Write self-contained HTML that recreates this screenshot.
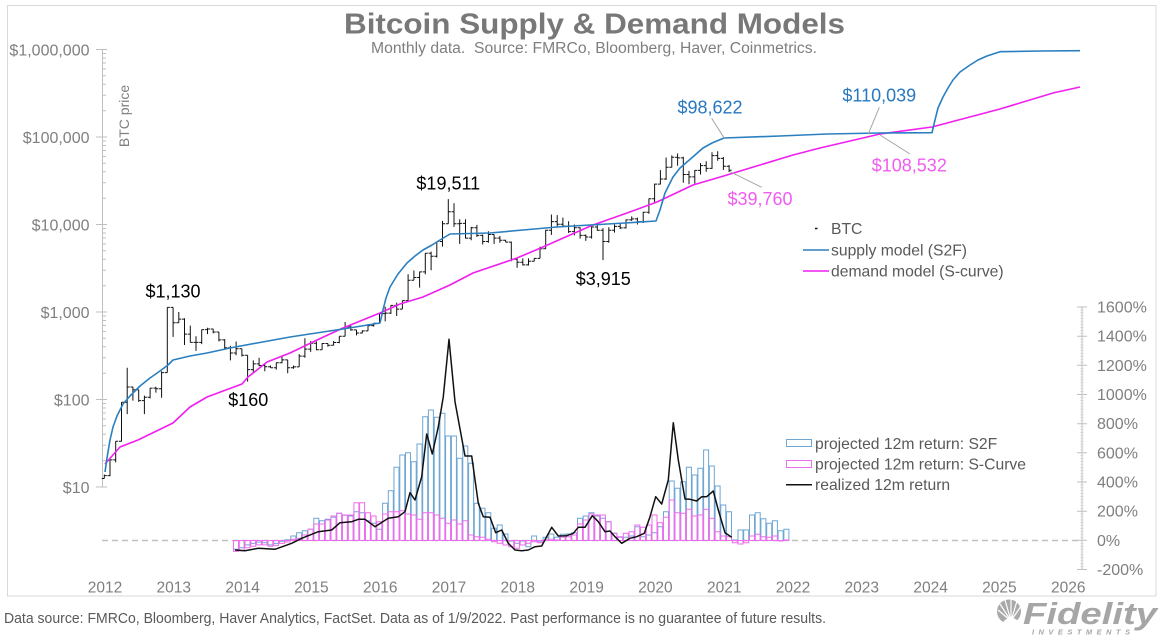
<!DOCTYPE html>
<html><head><meta charset="utf-8"><style>
html,body{margin:0;padding:0;background:#fff;}
svg{display:block;}
text{font-family:"Liberation Sans",Arial,sans-serif;}
</style></head><body>
<svg width="1163" height="640" viewBox="0 0 1163 640" xmlns="http://www.w3.org/2000/svg">
<rect x="0" y="0" width="1163" height="640" fill="#fff"/>
<rect x="7.5" y="5.5" width="1148.5" height="590.5" fill="none" stroke="#d9d9d9" stroke-width="1"/>

<!-- title -->
<text x="594.5" y="33.5" text-anchor="middle" font-size="29" font-weight="bold" fill="#787878" textLength="501" lengthAdjust="spacingAndGlyphs">Bitcoin Supply &amp; Demand Models</text>
<text x="594" y="53" text-anchor="middle" font-size="15.5" fill="#7f7f7f" textLength="446" lengthAdjust="spacingAndGlyphs">Monthly data.&#160; Source: FMRCo, Bloomberg, Haver, Coinmetrics.</text>

<!-- left axis -->
<g stroke="#bfbfbf" stroke-width="1" fill="none">
<path d="M102.5 49.5V487"/>
<path d="M96 49.5h11M96 137h11M96 224.5h11M96 312h11M96 399.5h11M96 487h11"/>
<path d="M102 460.7h4M102 445.3h4M102 434.3h4M102 425.8h4M102 418.9h4M102 413h4M102 408h4M102 403.5h4
M102 373.2h4M102 357.8h4M102 346.8h4M102 338.3h4M102 331.4h4M102 325.5h4M102 320.5h4M102 316h4
M102 285.7h4M102 270.3h4M102 259.3h4M102 250.8h4M102 243.9h4M102 238h4M102 233h4M102 228.5h4
M102 198.2h4M102 182.8h4M102 171.8h4M102 163.3h4M102 156.4h4M102 150.5h4M102 145.5h4M102 141h4
M102 110.7h4M102 95.3h4M102 84.3h4M102 75.8h4M102 68.9h4M102 63h4M102 58h4M102 53.5h4"/>
</g>
<g font-size="16" fill="#7f7f7f" text-anchor="end">
<text x="89.5" y="55.5">$1,000,000</text>
<text x="89.5" y="143">$100,000</text>
<text x="89.5" y="230.5">$10,000</text>
<text x="89.5" y="318">$1,000</text>
<text x="89.5" y="405.5">$100</text>
<text x="89.5" y="493">$10</text>
</g>
<text transform="translate(129,116) rotate(-90)" text-anchor="middle" font-size="14" fill="#7f7f7f">BTC price</text>

<!-- right axis -->
<g fill="none">
<path d="M1082 307V569.5" stroke="#bfbfbf" stroke-width="1"/>
<path d="M1082 306.7V570" stroke="#d3d3d3" stroke-width="4" stroke-dasharray="0.6 2.3167"/>
<path d="M1077 307h10M1077 336.2h10M1077 365.3h10M1077 394.5h10M1077 423.7h10M1077 452.8h10M1077 482h10M1077 511.2h10M1077 540.3h10M1077 569.5h10" stroke="#bfbfbf" stroke-width="1"/>
</g>
<g font-size="16" fill="#7f7f7f">
<text x="1097" y="312.5">1600%</text>
<text x="1097" y="341.7">1400%</text>
<text x="1097" y="370.8">1200%</text>
<text x="1097" y="400">1000%</text>
<text x="1097" y="429.2">800%</text>
<text x="1097" y="458.3">600%</text>
<text x="1097" y="487.5">400%</text>
<text x="1097" y="516.7">200%</text>
<text x="1097" y="545.8">0%</text>
<text x="1097" y="575">-200%</text>
</g>

<!-- x labels -->
<g font-size="15.5" fill="#7f7f7f" text-anchor="middle">
<text x="105" y="592.5">2012</text>
<text x="173.8" y="592.5">2013</text>
<text x="242.6" y="592.5">2014</text>
<text x="311.4" y="592.5">2015</text>
<text x="380.2" y="592.5">2016</text>
<text x="449" y="592.5">2017</text>
<text x="517.8" y="592.5">2018</text>
<text x="586.6" y="592.5">2019</text>
<text x="655.4" y="592.5">2020</text>
<text x="724.2" y="592.5">2021</text>
<text x="793" y="592.5">2022</text>
<text x="861.8" y="592.5">2023</text>
<text x="930.6" y="592.5">2024</text>
<text x="999.4" y="592.5">2025</text>
<text x="1068.2" y="592.5">2026</text>
</g>

<!-- zero line -->
<path d="M102 540.5H1082" stroke="#c0c0c0" stroke-width="1.5" stroke-dasharray="6 4" fill="none"/>

<!-- S2F bars -->
<path fill="none" stroke="#6ea6d4" stroke-width="1" d="M233.5 540.5V549.2h5V540.5ZM239.2 540.5V547.8h5V540.5ZM245 540.5V544.9h5V540.5ZM250.7 540.5V543.4h5V540.5ZM256.4 540.5V542h5V540.5ZM262.2 540.5V542.7h5V540.5ZM267.9 540.5V544.9h5V540.5ZM273.6 540.5V543.4h5V540.5ZM279.4 540.5V541.2h5V540.5ZM285.1 540.5V539.8h5V540.5ZM290.8 540.5V536h5V540.5ZM296.6 540.5V532.7h5V540.5ZM302.3 540.5V530.7h5V540.5ZM308 540.5V529.3h5V540.5ZM313.8 540.5V518.3h5V540.5ZM319.5 540.5V520.7h5V540.5ZM325.2 540.5V519.3h5V540.5ZM331 540.5V517.3h5V540.5ZM336.7 540.5V513.3h5V540.5ZM342.4 540.5V515.3h5V540.5ZM348.2 540.5V516h5V540.5ZM353.9 540.5V511.7h5V540.5ZM359.6 540.5V512.7h5V540.5ZM365.4 540.5V520.7h5V540.5ZM371.1 540.5V523.3h5V540.5ZM376.8 540.5V529.3h5V540.5ZM382.6 540.5V503.3h5V540.5ZM388.3 540.5V490.7h5V540.5ZM394 540.5V467.3h5V540.5ZM399.8 540.5V455h5V540.5ZM405.5 540.5V452.7h5V540.5ZM411.2 540.5V461.7h5V540.5ZM417 540.5V444h5V540.5ZM422.7 540.5V416.7h5V540.5ZM428.4 540.5V410h5V540.5ZM434.2 540.5V417.3h5V540.5ZM439.9 540.5V413.3h5V540.5ZM445.6 540.5V436h5V540.5ZM451.4 540.5V436h5V540.5ZM457.1 540.5V458.3h5V540.5ZM462.8 540.5V446h5V540.5ZM468.6 540.5V463.3h5V540.5ZM474.3 540.5V503.3h5V540.5ZM480 540.5V508.3h5V540.5ZM485.8 540.5V512.7h5V540.5ZM491.5 540.5V528.3h5V540.5ZM497.2 540.5V525h5V540.5ZM503 540.5V534h5V540.5ZM508.7 540.5V541h5V540.5ZM514.4 540.5V543.3h5V540.5ZM520.2 540.5V541h5V540.5ZM525.9 540.5V546.7h5V540.5ZM531.6 540.5V536h5V540.5ZM537.4 540.5V541.7h5V540.5ZM543.1 540.5V537.3h5V540.5ZM548.8 540.5V534h5V540.5ZM554.6 540.5V537.3h5V540.5ZM560.3 540.5V534.3h5V540.5ZM566 540.5V534h5V540.5ZM571.7 540.5V532.7h5V540.5ZM577.5 540.5V518.3h5V540.5ZM583.2 540.5V516h5V540.5ZM588.9 540.5V512.7h5V540.5ZM594.7 540.5V516h5V540.5ZM600.4 540.5V518.3h5V540.5ZM606.1 540.5V521.7h5V540.5ZM611.9 540.5V533.3h5V540.5ZM617.6 540.5V537.3h5V540.5ZM623.3 540.5V537.3h5V540.5ZM629.1 540.5V536h5V540.5ZM634.8 540.5V526.7h5V540.5ZM640.5 540.5V536.7h5V540.5ZM646.3 540.5V535h5V540.5ZM652 540.5V532.7h5V540.5ZM657.7 540.5V526.7h5V540.5ZM663.5 540.5V511.7h5V540.5ZM669.2 540.5V481h5V540.5ZM674.9 540.5V488.3h5V540.5ZM680.7 540.5V481.7h5V540.5ZM686.4 540.5V467.3h5V540.5ZM692.1 540.5V475h5V540.5ZM697.9 540.5V468.3h5V540.5ZM703.6 540.5V450h5V540.5ZM709.3 540.5V466h5V540.5ZM715.1 540.5V486h5V540.5ZM720.8 540.5V505h5V540.5ZM726.5 540.5V511.7h5V540.5ZM732.3 540.5V540h5V540.5ZM738 540.5V530h5V540.5ZM743.7 540.5V530h5V540.5ZM749.5 540.5V515h5V540.5ZM755.2 540.5V512.7h5V540.5ZM760.9 540.5V518.7h5V540.5ZM766.7 540.5V523.3h5V540.5ZM772.4 540.5V520.7h5V540.5ZM778.1 540.5V530.7h5V540.5ZM783.9 540.5V529.3h5V540.5Z"/>

<!-- S-curve bars -->
<path fill="none" stroke="#ee6cee" stroke-width="1" d="M233.5 540.5V551.4h5V540.5ZM239.2 540.5V550.7h5V540.5ZM245 540.5V547.8h5V540.5ZM250.7 540.5V546.3h5V540.5ZM256.4 540.5V544.9h5V540.5ZM262.2 540.5V544.9h5V540.5ZM267.9 540.5V546.3h5V540.5ZM273.6 540.5V545.6h5V540.5ZM279.4 540.5V543.4h5V540.5ZM285.1 540.5V542h5V540.5ZM290.8 540.5V539.3h5V540.5ZM296.6 540.5V538.3h5V540.5ZM302.3 540.5V535h5V540.5ZM308 540.5V529.3h5V540.5ZM313.8 540.5V524h5V540.5ZM319.5 540.5V524h5V540.5ZM325.2 540.5V520h5V540.5ZM331 540.5V516h5V540.5ZM336.7 540.5V513.3h5V540.5ZM342.4 540.5V515h5V540.5ZM348.2 540.5V515h5V540.5ZM353.9 540.5V502.7h5V540.5ZM359.6 540.5V502.7h5V540.5ZM365.4 540.5V512.7h5V540.5ZM371.1 540.5V516h5V540.5ZM376.8 540.5V521.7h5V540.5ZM382.6 540.5V514h5V540.5ZM388.3 540.5V511.7h5V540.5ZM394 540.5V511.7h5V540.5ZM399.8 540.5V510.7h5V540.5ZM405.5 540.5V514h5V540.5ZM411.2 540.5V515h5V540.5ZM417 540.5V519.3h5V540.5ZM422.7 540.5V512.7h5V540.5ZM428.4 540.5V512.7h5V540.5ZM434.2 540.5V515h5V540.5ZM439.9 540.5V518.3h5V540.5ZM445.6 540.5V523.3h5V540.5ZM451.4 540.5V520h5V540.5ZM457.1 540.5V524h5V540.5ZM462.8 540.5V520.7h5V540.5ZM468.6 540.5V535h5V540.5ZM474.3 540.5V536.7h5V540.5ZM480 540.5V537.3h5V540.5ZM485.8 540.5V539.3h5V540.5ZM491.5 540.5V541.7h5V540.5ZM497.2 540.5V543.3h5V540.5ZM503 540.5V545h5V540.5ZM508.7 540.5V546.7h5V540.5ZM514.4 540.5V548.3h5V540.5ZM520.2 540.5V545h5V540.5ZM525.9 540.5V543.3h5V540.5ZM531.6 540.5V541.7h5V540.5ZM537.4 540.5V542.7h5V540.5ZM543.1 540.5V540h5V540.5ZM548.8 540.5V539.3h5V540.5ZM554.6 540.5V540h5V540.5ZM560.3 540.5V537.3h5V540.5ZM566 540.5V536.7h5V540.5ZM571.7 540.5V535h5V540.5ZM577.5 540.5V524h5V540.5ZM583.2 540.5V520h5V540.5ZM588.9 540.5V514h5V540.5ZM594.7 540.5V515h5V540.5ZM600.4 540.5V515h5V540.5ZM606.1 540.5V521.7h5V540.5ZM611.9 540.5V533.3h5V540.5ZM617.6 540.5V536.7h5V540.5ZM623.3 540.5V533.3h5V540.5ZM629.1 540.5V531.7h5V540.5ZM634.8 540.5V525h5V540.5ZM640.5 540.5V527.3h5V540.5ZM646.3 540.5V525h5V540.5ZM652 540.5V515h5V540.5ZM657.7 540.5V522.7h5V540.5ZM663.5 540.5V517.3h5V540.5ZM669.2 540.5V500h5V540.5ZM674.9 540.5V512.7h5V540.5ZM680.7 540.5V513.3h5V540.5ZM686.4 540.5V509.3h5V540.5ZM692.1 540.5V516h5V540.5ZM697.9 540.5V515h5V540.5ZM703.6 540.5V509.3h5V540.5ZM709.3 540.5V518.3h5V540.5ZM715.1 540.5V531.7h5V540.5ZM720.8 540.5V536h5V540.5ZM726.5 540.5V536.7h5V540.5ZM732.3 540.5V542.7h5V540.5ZM738 540.5V544h5V540.5ZM743.7 540.5V542.7h5V540.5ZM749.5 540.5V536h5V540.5ZM755.2 540.5V534.3h5V540.5ZM760.9 540.5V536.7h5V540.5ZM766.7 540.5V537.3h5V540.5ZM772.4 540.5V536h5V540.5ZM778.1 540.5V541h5V540.5ZM783.9 540.5V540h5V540.5Z"/>

<!-- realized 12m return -->
<polyline fill="none" stroke="#111" stroke-width="1.5" stroke-linejoin="round" points="235,550 245,550.7 258.3,548.3 275,549.3 291.7,543.3 301.7,538.3 318.3,531.7 331.7,530 340,522.7 351.7,521.7 358.3,519.3 365,519.3 375,526.7 388.3,518.3 398.3,516.7 405,511.7 410,492.7 415,500 421.7,476.7 426.7,434 432.3,454 438.3,426.7 443.3,396.7 449,339.3 455,401.7 465,456 471.7,456 478.3,503.3 483.3,516.7 490,517.3 495.7,532.7 501.7,530 508.3,543.3 515,550 521.7,550.7 528.3,550 535,546.7 541.7,546 551.7,527.3 558.3,536 566.7,535.7 573.3,533.3 578.3,527.3 585,527.3 592.3,515.7 598.3,521.7 605,531.7 610,531 615,536.7 621.7,543.3 630,538.3 636.7,536.7 644.3,533.3 650,516.7 655.7,496.7 661.7,504 668.3,480 673.3,422.7 678.3,460 685,499 690,499.3 696.7,501 701.7,496.7 706.7,496.7 713.3,491 718.3,510 725,532.7 731.7,537.3"/>

<!-- BTC OHLC -->
<path fill="none" stroke="#111" stroke-width="1" d="M104.3 474.5V478.5M101.8 478.5h2.5M104.3 475.6h2.5M110 459.9V476.2M107.5 475.6h2.5M110 459.9h2.5M115.7 441.2V462.4M113.2 459.9h2.5M115.7 441.2h2.5M121.5 402.3V441.5M119 441.2h2.5M121.5 402.3h2.5M127.2 367.8V414.1M124.7 402.3h2.5M127.2 387h2.5M132.9 386.7V400.6M130.4 387h2.5M132.9 389.8h2.5M138.7 389.8V401.9M136.2 389.8h2.5M138.7 400.6h2.5M144.4 395.6V414.1M141.9 400.6h2.5M144.4 397.3h2.5M150.1 388.1V398.4M147.6 397.3h2.5M150.1 388.1h2.5M155.9 386.7V392.6M153.4 388.1h2.5M155.9 388.7h2.5M161.6 371.2V397.7M159.1 388.7h2.5M161.6 372.6h2.5M167.3 307.4V372.6M164.8 372.6h2.5M167.3 307.4h2.5M173.1 307.4V336.9M170.6 307.4h2.5M173.1 322.8h2.5M178.8 312V322.9M176.3 322.8h2.5M178.8 319.1h2.5M184.5 318.2V345M182 319.1h2.5M184.5 334.1h2.5M190.3 325.6V342.4M187.8 334.1h2.5M190.3 342.4h2.5M196 336.2V350.9M193.5 342.4h2.5M196 342.4h2.5M201.7 329.6V344.1M199.2 342.4h2.5M201.7 329.6h2.5M207.5 327.8V334.1M205 329.6h2.5M207.5 329h2.5M213.2 329V333.4M210.7 329h2.5M213.2 332h2.5M218.9 332V341.5M216.4 332h2.5M218.9 339.9h2.5M224.7 339.1V349.8M222.2 339.9h2.5M224.7 347.8h2.5M230.4 345.9V360.4M227.9 347.8h2.5M230.4 353h2.5M236.1 341.5V355.3M233.6 353h2.5M236.1 348.8h2.5M241.9 348.8V356.5M239.4 348.8h2.5M241.9 355.3h2.5M247.6 355.3V381.6M245.1 355.3h2.5M247.6 369.6h2.5M253.3 360.4V373.2M250.8 369.6h2.5M253.3 363.9h2.5M259.1 357.8V366.3M256.6 363.9h2.5M259.1 365.5h2.5M264.8 363.2V371.3M262.3 365.5h2.5M264.8 366.7h2.5M270.5 365.5V367.8M268 366.7h2.5M270.5 367.8h2.5M276.3 362.5V369.6M273.8 367.8h2.5M276.3 362.8h2.5M282 355.9V363.2M279.5 362.8h2.5M282 359.9h2.5M287.7 359.9V373.2M285.2 359.9h2.5M287.7 367.8h2.5M293.5 365.5V368.7M291 367.8h2.5M293.5 366.9h2.5M299.2 354.1V366.9M296.7 366.9h2.5M299.2 356.1h2.5M304.9 338.3V357.8M302.4 356.1h2.5M304.9 349.1h2.5M310.7 341.1V351.9M308.2 349.1h2.5M310.7 343.2h2.5M316.4 341.5V350.3M313.9 343.2h2.5M316.4 349.8h2.5M322.1 343.2V349.8M319.6 349.8h2.5M322.1 343.5h2.5M327.9 343.5V346.8M325.4 343.5h2.5M327.9 345.3h2.5M333.6 341V345.4M331.1 345.3h2.5M333.6 342.5h2.5M339.3 336.2V343.2M336.8 342.5h2.5M339.3 336.2h2.5M345.1 322V336.2M342.6 336.2h2.5M345.1 327h2.5M350.8 325.6V330.8M348.3 327h2.5M350.8 329.9h2.5M356.5 329.9V335.4M354 329.9h2.5M356.5 333h2.5M362.3 330.2V333.4M359.8 333h2.5M362.3 330.9h2.5M368 324V330.9M365.5 330.9h2.5M368 325.6h2.5M373.7 323.2V326.6M371.2 325.6h2.5M373.7 323.2h2.5M379.5 313.1V323.2M377 323.2h2.5M379.5 313.6h2.5M385.2 306.7V321.4M382.7 313.6h2.5M385.2 313.1h2.5M390.9 305.1V313.9M388.4 313.1h2.5M390.9 305.4h2.5M396.7 302.6V316M394.2 305.4h2.5M396.7 309.1h2.5M402.4 300.6V309.1M399.9 309.1h2.5M402.4 300.6h2.5M408.1 274.3V300.6M405.6 300.6h2.5M408.1 280.3h2.5M413.9 270.5V280.3M411.4 280.3h2.5M413.9 277.5h2.5M419.6 271.6V287.6M417.1 277.5h2.5M419.6 271.9h2.5M425.3 253.2V274.3M422.8 271.9h2.5M425.3 253.2h2.5M431.1 251.6V270.3M428.6 253.2h2.5M431.1 256.3h2.5M436.8 241.5V257.5M434.3 256.3h2.5M436.8 241.5h2.5M442.5 220.9V246.6M440 241.5h2.5M442.5 223.7h2.5M448.3 199.1V223.7M445.8 223.7h2.5M448.3 211.7h2.5M454 203.2V226.9M451.5 211.7h2.5M454 223.7h2.5M459.7 219.2V243.9M457.2 223.7h2.5M459.7 223.4h2.5M465.5 219.2V238.6M463 223.4h2.5M465.5 238.1h2.5M471.2 226.9V240.3M468.7 238.1h2.5M471.2 227.7h2.5M476.9 224.9V237M474.4 227.7h2.5M476.9 235.4h2.5M482.7 234.5V244.5M480.2 235.4h2.5M482.7 241.5h2.5M488.4 231.2V242.7M485.9 241.5h2.5M488.4 234.5h2.5M494.1 234.5V243.9M491.6 234.5h2.5M494.1 238.1h2.5M499.9 236V242.7M497.4 238.1h2.5M499.9 240.3h2.5M505.6 239.7V242.1M503.1 240.3h2.5M505.6 242.1h2.5M511.3 241.5V261.3M508.8 242.1h2.5M511.3 259.3h2.5M517.1 258.4V267.8M514.6 259.3h2.5M517.1 262.3h2.5M522.8 258.4V265.5M520.3 262.3h2.5M522.8 264.9h2.5M528.5 258.4V265.5M526 264.9h2.5M528.5 261.3h2.5M534.2 258.4V261.3M531.7 261.3h2.5M534.2 258.4h2.5M540 246.6V258.4M537.5 258.4h2.5M540 248.7h2.5M545.7 229.8V248.7M543.2 248.7h2.5M545.7 230.3h2.5M551.4 214.5V234.9M548.9 230.3h2.5M551.4 221.6h2.5M557.2 215.1V227.3M554.7 221.6h2.5M557.2 224.2h2.5M562.9 217.6V226.1M560.4 224.2h2.5M562.9 226.1h2.5M568.6 221.3V233M566.1 226.1h2.5M568.6 231.6h2.5M574.4 224.5V235.4M571.9 231.6h2.5M574.4 227.7h2.5M580.1 227.3V238.6M577.6 227.7h2.5M580.1 235.4h2.5M585.8 234.5V240.9M583.3 235.4h2.5M585.8 237h2.5M591.6 226.4V238.6M589.1 237h2.5M591.6 227h2.5M597.3 223V230.7M594.8 227h2.5M597.3 230.3h2.5M603 228.1V260.1M600.5 230.3h2.5M603 241.5h2.5M608.8 227.3V242.7M606.3 241.5h2.5M608.8 230.3h2.5M614.5 224.5V232.6M612 230.3h2.5M614.5 226.4h2.5M620.2 223.4V229M617.7 226.4h2.5M620.2 227.9h2.5M626 219.5V228.5M623.5 227.9h2.5M626 219.9h2.5M631.7 216.4V220.9M629.2 219.9h2.5M631.7 218.9h2.5M637.4 217.6V224.5M634.9 218.9h2.5M637.4 221.6h2.5M643.2 211.7V223M640.7 221.6h2.5M643.2 212.3h2.5M648.9 198.5V213.7M646.4 212.3h2.5M648.9 198.8h2.5M654.6 183.6V203M652.1 198.8h2.5M654.6 184.1h2.5M660.4 170.1V184.4M657.9 184.1h2.5M660.4 179h2.5M666.1 157.5V180M663.6 179h2.5M666.1 167.2h2.5M671.8 155.4V167.4M669.3 167.2h2.5M671.8 157.2h2.5M677.6 153.5V165.7M675.1 157.2h2.5M677.6 157.9h2.5M683.3 156.7V182.8M680.8 157.9h2.5M683.3 174.5h2.5M689 170.9V184.3M686.5 174.5h2.5M689 176.9h2.5M694.8 170V183.6M692.3 176.9h2.5M694.8 170.4h2.5M700.5 163V174.5M698 170.4h2.5M700.5 165.6h2.5M706.2 161.2V171.8M703.7 165.6h2.5M706.2 168.4h2.5M712 152.3V168.9M709.5 168.4h2.5M712 155.6h2.5M717.7 151.2V160.8M715.2 155.6h2.5M717.7 158.4h2.5M723.4 157V170M720.9 158.4h2.5M723.4 166.2h2.5M729.1 165V172.1M726.6 166.2h2.5M729.1 170.2h2.5"/>

<!-- demand model (S-curve) -->
<polyline fill="none" stroke="#f01ff0" stroke-width="1.6" stroke-linejoin="round" points="105,464 120,447 138,440 173,423 190,407 207,397 242,384 248,377 257,370 267,362 290,353 317,340 343,328 380,313 400,304 423,297 450,285 473,273 517,258 543,247 570,235 593,225 627,213 657,202 693,185 727,175 760,165 793,155 820,148 880,134 932,127 1000,109 1053,93 1080,87"/>

<!-- supply model (S2F) -->
<polyline fill="none" stroke="#2a7fc0" stroke-width="1.6" stroke-linejoin="round" points="105,472 107,458 110,440 113,427 117,416 123,404 130,396 140,386 150,378 160,371 168,365 173,360 190,356 207,353 230,348 257,343 290,337 323,332 343,329 380,323 383,310 386,298 390,287 398,274 407,263 415,256 423,250 432,245 440,240 450,234 490,233 523,230 557,227 590,225 625,223 656,221 660,210 665,193 673,177 680,168 687,162 695,155 703,148 712,143 724,138 780,136 827,134 880,133 932,132.7 935,120 938,108 943,97 948,88 953,80 960,72 970,65 978,60 987,56 1000,51.7 1040,51 1080,50.7"/>

<!-- leader lines -->
<g stroke="#a6a6a6" stroke-width="1" fill="none">
<path d="M711.7 118.3L724.3 138.3"/>
<path d="M730 171.7L761.7 187.3"/>
<path d="M879.3 107.3L868.3 134"/>
<path d="M880 135L910 154"/>
</g>

<!-- annotations -->
<g font-size="18" text-anchor="middle">
<text x="173" y="297.5" fill="#000">$1,130</text>
<text x="248.3" y="406" fill="#000">$160</text>
<text x="448.3" y="189.5" fill="#000">$19,511</text>
<text x="603.3" y="285" fill="#000">$3,915</text>
<text x="710" y="113.5" fill="#2878c0">$98,622</text>
<text x="879.3" y="101.5" fill="#2878c0">$110,039</text>
<text x="760" y="205" fill="#f05cf0">$39,760</text>
<text x="909.3" y="171.5" fill="#f05cf0">$108,532</text>
</g>

<!-- legend 1 -->
<path d="M815 228.5h2.5" stroke="#111" stroke-width="1.5"/>
<path d="M803 250H829" stroke="#2a7fc0" stroke-width="1.6"/>
<path d="M803 271H829" stroke="#f01ff0" stroke-width="1.6"/>
<g font-size="15.7" fill="#595959">
<text x="831" y="234">BTC</text>
<text x="831" y="255.5">supply model (S2F)</text>
<text x="831" y="276.5">demand model (S-curve)</text>
</g>

<!-- legend 2 -->
<rect x="786.5" y="439.5" width="25" height="7" fill="none" stroke="#6ea6d4" stroke-width="1"/>
<rect x="786.5" y="460.5" width="25" height="7" fill="none" stroke="#ee6cee" stroke-width="1"/>
<path d="M786 484.7H812" stroke="#111" stroke-width="1.5"/>
<g font-size="15.7" fill="#595959">
<text x="815" y="449">projected 12m return: S2F</text>
<text x="815" y="469.5">projected 12m return: S-Curve</text>
<text x="815" y="490">realized 12m return</text>
</g>

<!-- footer -->
<text x="4" y="623" font-size="14.5" fill="#595959" textLength="822" lengthAdjust="spacingAndGlyphs">Data source: FMRCo, Bloomberg, Haver Analytics, FactSet. Data as of 1/9/2022. Past performance is no guarantee of future results.</text>

<!-- Fidelity logo -->
<g>
<circle cx="1009" cy="611.5" r="12" fill="#a9a9a9"/>
<g stroke="#fff" stroke-width="1.2">
<path d="M1011 621L998 610M1011 621L1000 604M1011 621L1005 600M1011 621L1011 599.5M1011 621L1017 601M1011 621L1021 606"/>
</g>
<path d="M1003 624a8 6 0 0 1 16 0z" fill="#fff"/>
<text x="1023" y="624" font-size="31" font-weight="bold" font-style="italic" fill="#a6a6a6" textLength="134" lengthAdjust="spacingAndGlyphs">Fidelity</text>
<text x="1032" y="634.5" font-size="7.5" font-weight="bold" font-style="italic" fill="#a6a6a6" textLength="98" lengthAdjust="spacing">INVESTMENTS</text>
</g>
</svg>
</body></html>
